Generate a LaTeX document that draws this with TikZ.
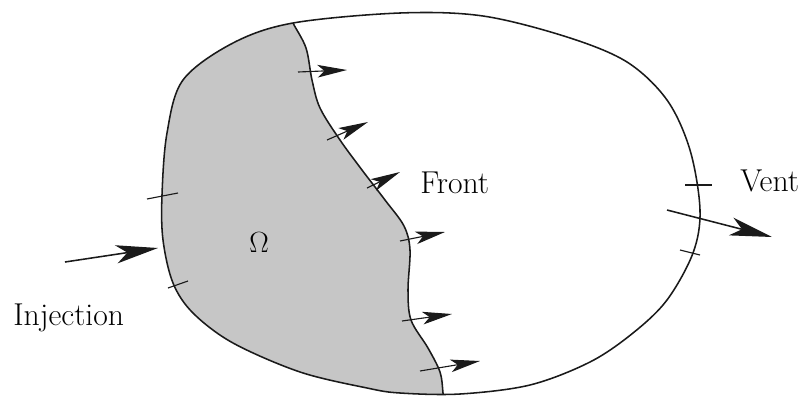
\documentclass[tikz,border=0pt]{standalone}
\usepackage{tikz}
\usetikzlibrary{arrows.meta}
\definecolor{moldgray}{HTML}{C6C6C6}
\definecolor{moldink}{HTML}{1A1A1A}
\newcommand\moldoutline{plot[smooth cycle,tension=.55] coordinates{
  (293,23) (400,13) (483,16) (567,37) (627,62) (667,100) (690,150)
  (700,210) (693,253) (667,300) (633,333) (590,362) (530,385) (460,394)
  (400,393) (367,388) (300,372) (233,343) (193,313) (173,283) (163,240)
  (162,195) (167,133) (183,80) (233,43)}}
\newcommand\resinfront{plot[smooth,tension=.55] coordinates{
  (283,2) (293,23) (306,48) (312,80) (320,108) (340,140) (362,170)
  (385,200) (404,226) (410,250) (408,290) (411,320) (428,348) (440,372)
  (443,393) (445,420)}}

\begin{document}
\begin{tikzpicture}[x=0.025cm,y=-0.025cm,>=Stealth,
  font=\fontsize{22.5}{26}\selectfont,
  wall/.style={moldink,line width=1.1pt},
  flow/.style={moldink,line width=.8pt,-{Stealth[length=21pt,width=9pt,inset=5pt]}},
  port/.style={moldink,line width=1.1pt,-{Stealth[length=30pt,width=13pt,inset=8pt]}},
  notch/.style={moldink,line width=.8pt},
  lbl/.style={inner sep=0pt,anchor=base west}]
  \useasboundingbox (0,0) rectangle (809,396);

  \begin{scope}
    \clip \resinfront -- (0,420) -- (0,0) -- cycle;
    \fill[moldgray] \moldoutline;
  \end{scope}
  \begin{scope}
    \clip \moldoutline;
    \draw[wall] \resinfront;
  \end{scope}
  \draw[wall] \moldoutline;

  \foreach \tl/\hd [count=\k] in {{298,72}/{347,70},{327,140}/{368,122},
      {367,188}/{400,172},{400,241}/{445,232},{402,321}/{452,314},
      {420,371}/{480,361}} {
    \coordinate (tail\k) at (\tl);
    \coordinate (head\k) at (\hd);
    \draw[flow] (tail\k) -- (head\k);
  }

  \coordinate (injtail) at (65,262);
  \coordinate (injtip) at (158,248);
  \draw[port] (injtail) -- (injtip);
  \coordinate (venttail) at (667,210);
  \coordinate (venttip) at (772,237);
  \draw[port] (venttail) -- (venttip);

  \draw[notch] (147,199) -- (178,193);
  \draw[notch] (168,288) -- (188,281);
  \draw[notch] (685,185) -- (712,185);
  \draw[notch] (680,250) -- (700,255);

  \node[lbl] (front) at (420,193) {Front};
  \node[lbl] (vent) at (740,191) {Vent};
  \node[lbl] (inj) at (13,325) {Injection};
  \node[inner sep=0pt,anchor=base] (omega) at (259,252) {$\Omega$};
\end{tikzpicture}
\end{document}
